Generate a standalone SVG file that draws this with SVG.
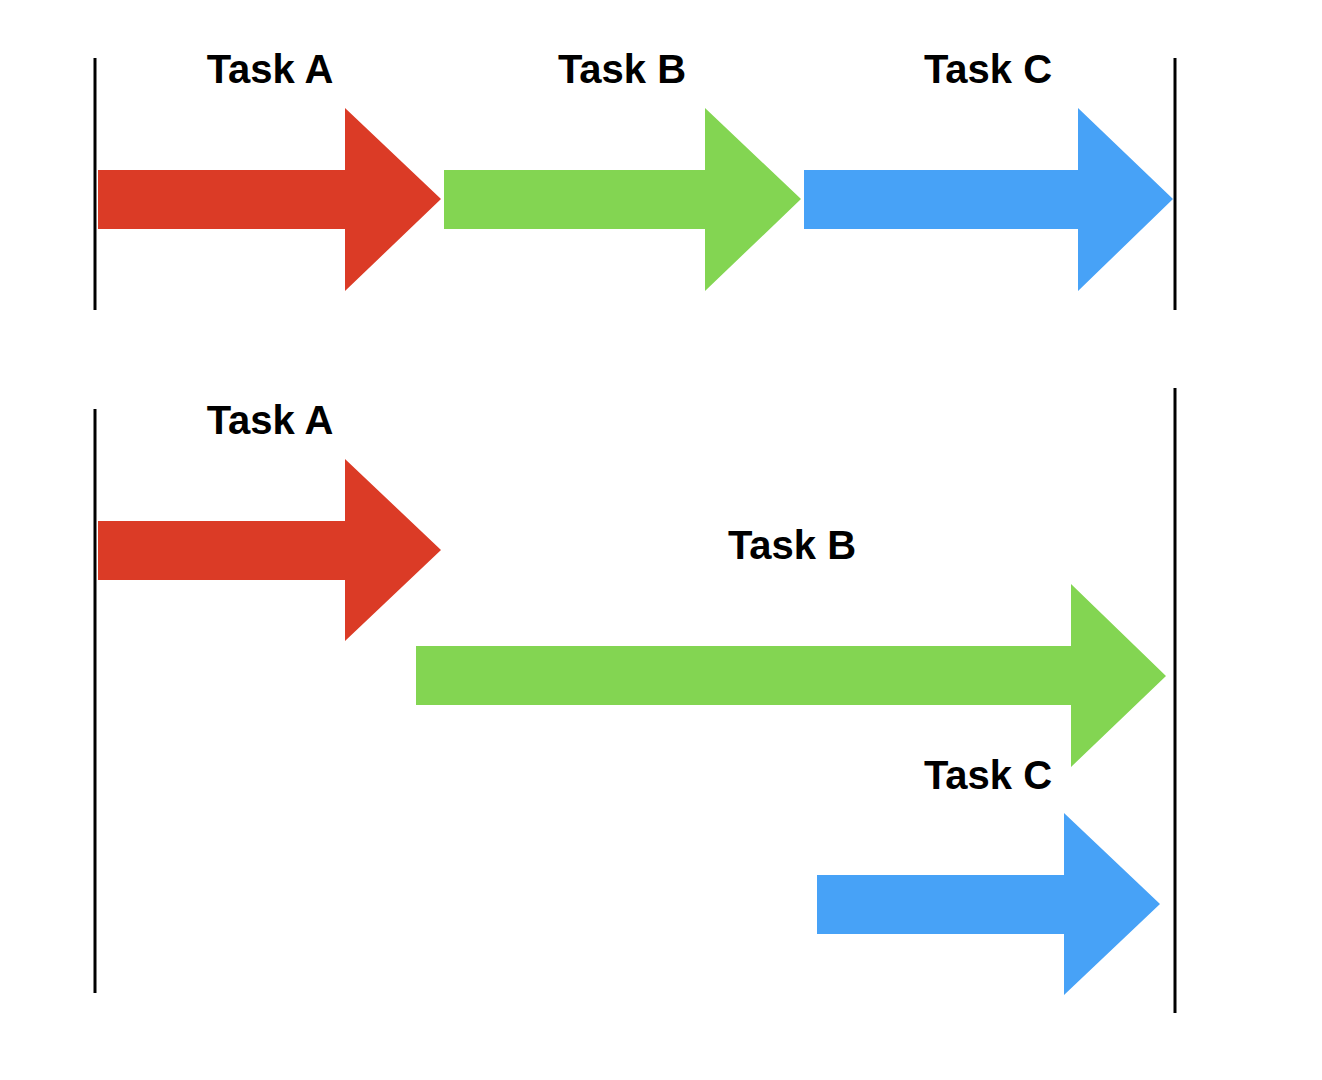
<svg xmlns="http://www.w3.org/2000/svg" width="1322" height="1080" viewBox="0 0 1322 1080">
<style>
.lbl{font-family:"Liberation Sans",Arial,sans-serif;font-weight:bold;font-size:40px;fill:#000;text-anchor:middle}
.bar{stroke:#000;stroke-width:3}
.red{fill:#DB3B26}
.green{fill:#83D552}
.blue{fill:#47A2F7}
</style>
<rect width="1322" height="1080" fill="#fff"/>
<g id="bars">
<line class="bar" x1="95" y1="58" x2="95" y2="310"/>
<line class="bar" x1="1175" y1="58" x2="1175" y2="310"/>
<line class="bar" x1="95" y1="409" x2="95" y2="993"/>
<line class="bar" x1="1175" y1="388" x2="1175" y2="1013"/>
</g>
<g id="top-a"><polygon class="red" points="98,170 345,170 345,108 441,199 345,291 345,229 98,229"/><text class="lbl" x="270" y="83">Task A</text></g>
<g id="top-b"><polygon class="green" points="444,170 705,170 705,108 801,199 705,291 705,229 444,229"/><text class="lbl" x="622" y="83">Task B</text></g>
<g id="top-c"><polygon class="blue" points="804,170 1078,170 1078,108 1173,199 1078,291 1078,229 804,229"/><text class="lbl" x="988" y="83">Task C</text></g>
<g id="bot-a"><polygon class="red" points="98,521 345,521 345,459 441,550 345,641 345,580 98,580"/><text class="lbl" x="270" y="434">Task A</text></g>
<g id="bot-b"><polygon class="green" points="416,646 1071,646 1071,584 1166,676 1071,767 1071,705 416,705"/><text class="lbl" x="792" y="559">Task B</text></g>
<g id="bot-c"><polygon class="blue" points="817,875 1064,875 1064,813 1160,904 1064,995 1064,934 817,934"/><text class="lbl" x="988" y="789">Task C</text></g>
</svg>
